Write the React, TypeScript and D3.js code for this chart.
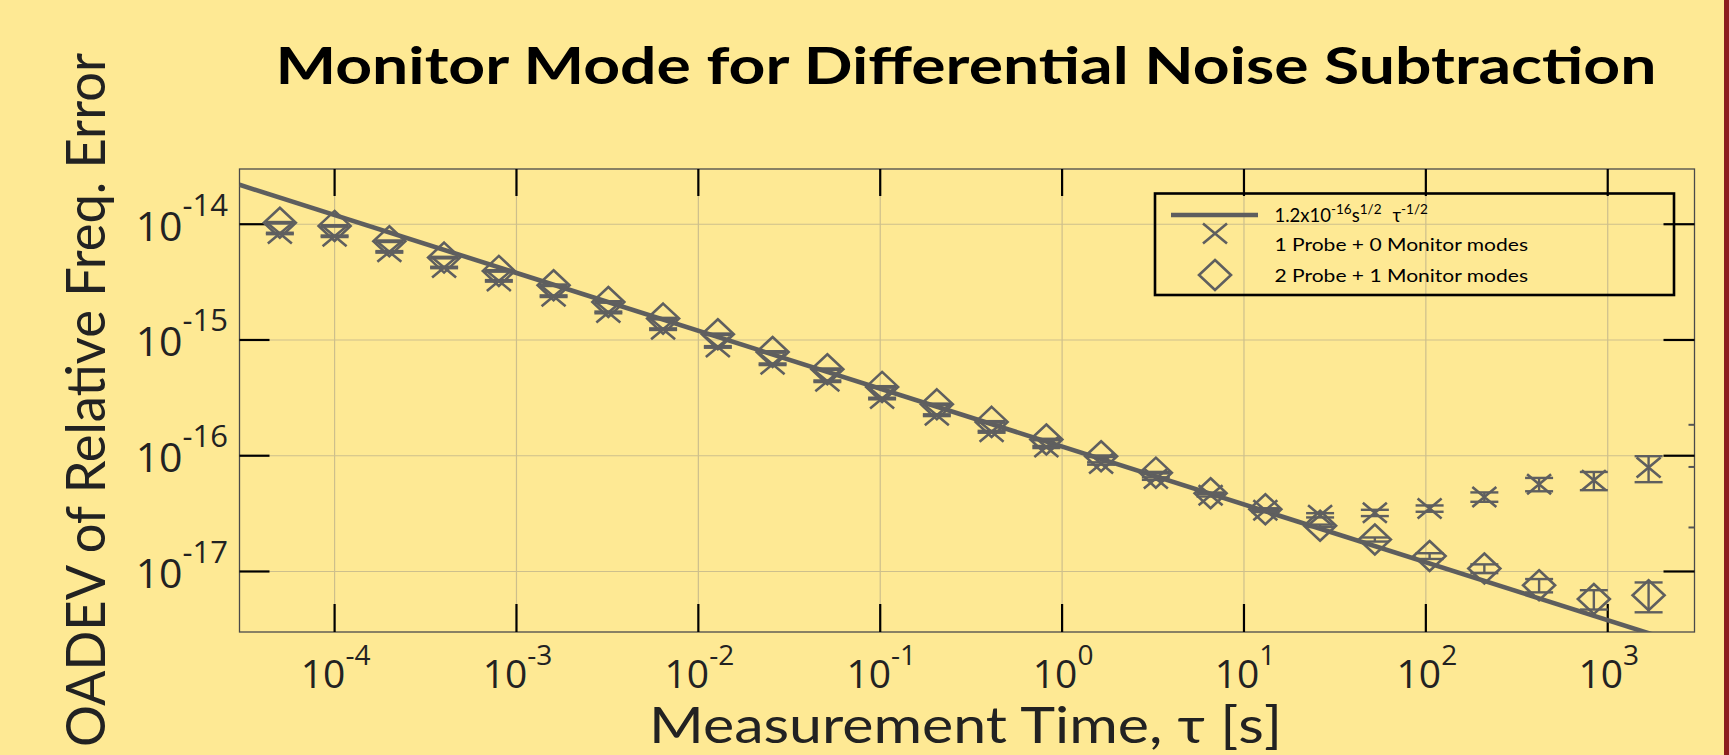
import React from 'react';
import * as d3 from 'd3';

const W = 1729;
const H = 755;

// Averaging times (s)
const tau = [
  5e-5, 1e-4, 2e-4, 4e-4, 8e-4, 1.6e-3, 3.2e-3, 6.4e-3, 1.28e-2, 2.56e-2,
  5.12e-2, 0.1024, 0.2048, 0.4096, 0.8192, 1.6384, 3.2768, 6.5536, 13.107,
  26.214, 52.429, 104.86, 209.72, 419.43, 838.86, 1677.7,
];

// 1 Probe + 0 Monitor modes
const probeOnly = [
  8.32e-15, 7.87e-15, 5.77e-15, 4.23e-15, 3.24e-15, 2.39e-15, 1.73e-15, 1.24e-15,
  8.71e-16, 6.17e-16, 4.4e-16, 3.12e-16, 2.24e-16, 1.61e-16, 1.19e-16, 8.57e-17,
  6.35e-17, 4.56e-17, 3.38e-17, 3.06e-17, 3.21e-17, 3.5e-17, 4.41e-17, 5.68e-17,
  6.14e-17, 7.91e-17,
];
const probeOnlyErr = [
  1.2e-16, 1.2e-16, 9e-17, 6e-17, 5e-17, 4e-17, 3e-17, 2e-17,
  1.4e-17, 1e-17, 7e-18, 5e-18, 4e-18, 3e-18, 2.5e-18, 2e-18,
  1.6e-18, 1.2e-18, 1.2e-18, 1.3e-18, 2e-18, 2.2e-18, 4.1e-18, 7.5e-18,
  1.1e-17, 2e-17,
];

// 2 Probe + 1 Monitor modes
const withMonitor = [
  1.03e-14, 9.67e-15, 7.13e-15, 5.15e-15, 3.95e-15, 2.97e-15, 2.13e-15, 1.53e-15,
  1.12e-15, 7.88e-16, 5.59e-16, 3.93e-16, 2.78e-16, 1.96e-16, 1.38e-16, 9.9e-17,
  7.14e-17, 4.74e-17, 3.45e-17, 2.48e-17, 1.89e-17, 1.36e-17, 1.06e-17, 7.6e-18,
  5.79e-18, 6.24e-18,
];
const withMonitorErr = [
  1.5e-16, 1.4e-16, 1.1e-16, 8e-17, 6e-17, 4.5e-17, 3.2e-17, 2.3e-17,
  1.7e-17, 1.2e-17, 8.5e-18, 6e-18, 4.2e-18, 3e-18, 2.1e-18, 1.5e-18,
  1.1e-18, 7e-19, 6e-19, 6e-19, 7.7e-19, 7.8e-19, 9.2e-19, 1e-18,
  1.1e-18, 1.8e-18,
];

// Model line: 1.2e-16 s^1/2 * tau^-1/2
const fitCoefficient = 1.2e-16;
const fitExponent = -0.5;
const fitTauRange = [3e-5, 3e3];

const xTickExponents = ['-4', '-3', '-2', '-1', '0', '1', '2', '3'];
const yTickExponents = ['-17', '-16', '-15', '-14'];
const rightMinorTicks = [2.4e-17, 8e-17, 1.85e-16];

const titleText = 'Monitor Mode for Differential Noise Subtraction';
const xLabelText = 'Measurement Time, \u03c4 [s]';
const yLabelText = 'OADEV of Relative Freq. Error';
const legendLabel2 = '1 Probe + 0 Monitor modes';
const legendLabel3 = '2 Probe + 1 Monitor modes';

const BG = '#FEE994';
const MARK = '#5f5f5f';
const GRID = '#cdbf8c';

const plot = { left: 239.5, right: 1694.5, top: 169, bottom: 632 };

export default function App() {
  const x = d3.scaleLog().domain([3e-5, 3e3]).range([plot.left, plot.right]);
  const y = d3.scaleLog().domain([3e-18, 3e-14]).range([plot.bottom, plot.top]);

  const xTicks = xTickExponents.map((e) => ({ e, v: Math.pow(10, +e) }));
  const yTicks = yTickExponents.map((e) => ({ e, v: Math.pow(10, +e) }));

  const fitLine = d3
    .line<number>()
    .x((t) => x(t))
    .y((t) => y(fitCoefficient * Math.pow(t, fitExponent)));

  const xMarker = 'M -12 -10 L 12 10 M -12 10 L 12 -10';
  const diamond = 'M 0 -15 L 16 0 L 0 15 L -16 0 Z';
  const cap = 14;

  const errBar = (t: number, v: number, s: number, key: string) => {
    const px = x(t);
    const y1 = y(v + s);
    const y2 = y(Math.max(v - s, 1e-30));
    return (
      <g key={key} stroke={MARK} strokeWidth={2.4} fill="none">
        <line x1={px} x2={px} y1={y1} y2={y2} />
        <line x1={px - cap} x2={px + cap} y1={y1} y2={y1} />
        <line x1={px - cap} x2={px + cap} y1={y2} y2={y2} />
      </g>
    );
  };

  const tickFont = "'Open Sans', 'Noto Sans', sans-serif";
  const labelFont = "Lato, 'Open Sans', sans-serif";

  return (
    <svg
      width={W}
      height={H}
      viewBox={`0 0 ${W} ${H}`}
      style={{ position: 'absolute', left: 0, top: 0, display: 'block' }}
    >
      <defs>
        <clipPath id="plotClip">
          <rect x={plot.left} y={plot.top} width={plot.right - plot.left} height={plot.bottom - plot.top} />
        </clipPath>
      </defs>
      <rect x={0} y={0} width={W} height={H} fill={BG} />
      <rect x={1724} y={0} width={5} height={H} fill="#8B1E1E" />

      {/* Title */}
      <text
        x={275.5}
        y={84}
        fontFamily={labelFont}
        fontWeight={700}
        fontSize={51}
        fill="#000"
        textLength={1381}
        lengthAdjust="spacingAndGlyphs"
      >
        {titleText}
      </text>

      {/* Grid */}
      <g stroke={GRID} strokeWidth={1.2}>
        {xTicks.map((t) => (
          <line key={'gx' + t.e} x1={x(t.v)} x2={x(t.v)} y1={plot.top} y2={plot.bottom} />
        ))}
        {yTicks.map((t) => (
          <line key={'gy' + t.e} x1={plot.left} x2={plot.right} y1={y(t.v)} y2={y(t.v)} />
        ))}
      </g>

      {/* Plot frame */}
      <rect
        x={plot.left}
        y={plot.top}
        width={plot.right - plot.left}
        height={plot.bottom - plot.top}
        fill="none"
        stroke="#4a4a4a"
        strokeWidth={1.3}
      />

      {/* Ticks */}
      <g stroke="#000" strokeWidth={2.2}>
        {xTicks.map((t) => (
          <g key={'tx' + t.e}>
            <line x1={x(t.v)} x2={x(t.v)} y1={plot.bottom} y2={plot.bottom - 28} />
            <line x1={x(t.v)} x2={x(t.v)} y1={plot.top} y2={plot.top + 27} />
          </g>
        ))}
        {yTicks.map((t) => (
          <g key={'ty' + t.e}>
            <line x1={plot.left} x2={plot.left + 30} y1={y(t.v)} y2={y(t.v)} />
            <line x1={plot.right} x2={plot.right - 31} y1={y(t.v)} y2={y(t.v)} />
          </g>
        ))}
      </g>
      <g stroke="#555" strokeWidth={2}>
        {rightMinorTicks.map((v, i) => (
          <line key={'mt' + i} x1={plot.right} x2={plot.right - 6} y1={y(v)} y2={y(v)} />
        ))}
      </g>

      {/* X tick labels */}
      <g fontFamily={tickFont} fill="#222">
        {xTicks.map((t) => (
          <text key={'lx' + t.e} x={x(t.v) + 1} y={688} textAnchor="middle" fontSize={39}>
            10
            <tspan dy={-23} fontSize={28}>
              {t.e}
            </tspan>
          </text>
        ))}
      </g>

      {/* Y tick labels */}
      <g fontFamily={tickFont} fill="#222">
        {yTicks.map((t) => (
          <text key={'ly' + t.e} x={228} y={y(t.v) + 16.5} textAnchor="end" fontSize={41}>
            10
            <tspan dy={-25} fontSize={31}>
              {t.e}
            </tspan>
          </text>
        ))}
      </g>

      {/* Axis titles */}
      <text
        x={649}
        y={743}
        fontFamily={labelFont}
        fontSize={50}
        fill="#222"
        textLength={633}
        lengthAdjust="spacingAndGlyphs"
      >
        {xLabelText}
      </text>
      <text
        transform="translate(105,747) rotate(-90)"
        x={0}
        y={0}
        fontFamily={labelFont}
        fontSize={55}
        fill="#222"
        textLength={694}
        lengthAdjust="spacingAndGlyphs"
      >
        {yLabelText}
      </text>

      {/* Fit line */}
      <path
        d={fitLine(fitTauRange) || ''}
        clipPath="url(#plotClip)"
        fill="none"
        stroke="#5e5e5e"
        strokeWidth={4.6}
      />

      {/* Series: 1 Probe + 0 Monitor (X) */}
      <g>
        {tau.map((t, i) => errBar(t, probeOnly[i], probeOnlyErr[i], 'ex' + i))}
        {tau.map((t, i) => (
          <path
            key={'mx' + i}
            d={xMarker}
            transform={`translate(${x(t)},${y(probeOnly[i])})`}
            fill="none"
            stroke={MARK}
            strokeWidth={2.6}
          />
        ))}
      </g>

      {/* Series: 2 Probe + 1 Monitor (diamonds) */}
      <g>
        {tau.map((t, i) => errBar(t, withMonitor[i], withMonitorErr[i], 'ed' + i))}
        {tau.map((t, i) => (
          <path
            key={'md' + i}
            d={diamond}
            transform={`translate(${x(t)},${y(withMonitor[i])})`}
            fill="none"
            stroke={MARK}
            strokeWidth={2.6}
          />
        ))}
      </g>

      {/* Legend */}
      <g>
        <rect x={1155} y={193.5} width={519} height={101.5} fill="none" stroke="#000" strokeWidth={2.6} />
        <line x1={1171} x2={1258} y1={215} y2={215} stroke="#5e5e5e" strokeWidth={4.6} />
        <path d={xMarker} transform="translate(1215,233.5)" fill="none" stroke={MARK} strokeWidth={2.6} />
        <path d={diamond} transform="translate(1215,275)" fill="none" stroke={MARK} strokeWidth={2.6} />
        <g fontFamily={labelFont} fill="#000">
          <text x={1274.5} y={222} fontSize={18.5}>
            1.2x10
            <tspan dy={-8} fontSize={13.5}>-16</tspan>
            <tspan dy={8} fontSize={18.5}>s</tspan>
            <tspan dy={-8} fontSize={13.5}>1/2</tspan>
            <tspan dy={8} dx={11} fontSize={18.5}>{'\u03c4'}</tspan>
            <tspan dy={-8} fontSize={13.5}>-1/2</tspan>
          </text>
          <text x={1274.5} y={251} fontSize={17.5} textLength={253.5} lengthAdjust="spacingAndGlyphs">
            {legendLabel2}
          </text>
          <text x={1274.5} y={282} fontSize={17.5} textLength={253.5} lengthAdjust="spacingAndGlyphs">
            {legendLabel3}
          </text>
        </g>
      </g>
    </svg>
  );
}
